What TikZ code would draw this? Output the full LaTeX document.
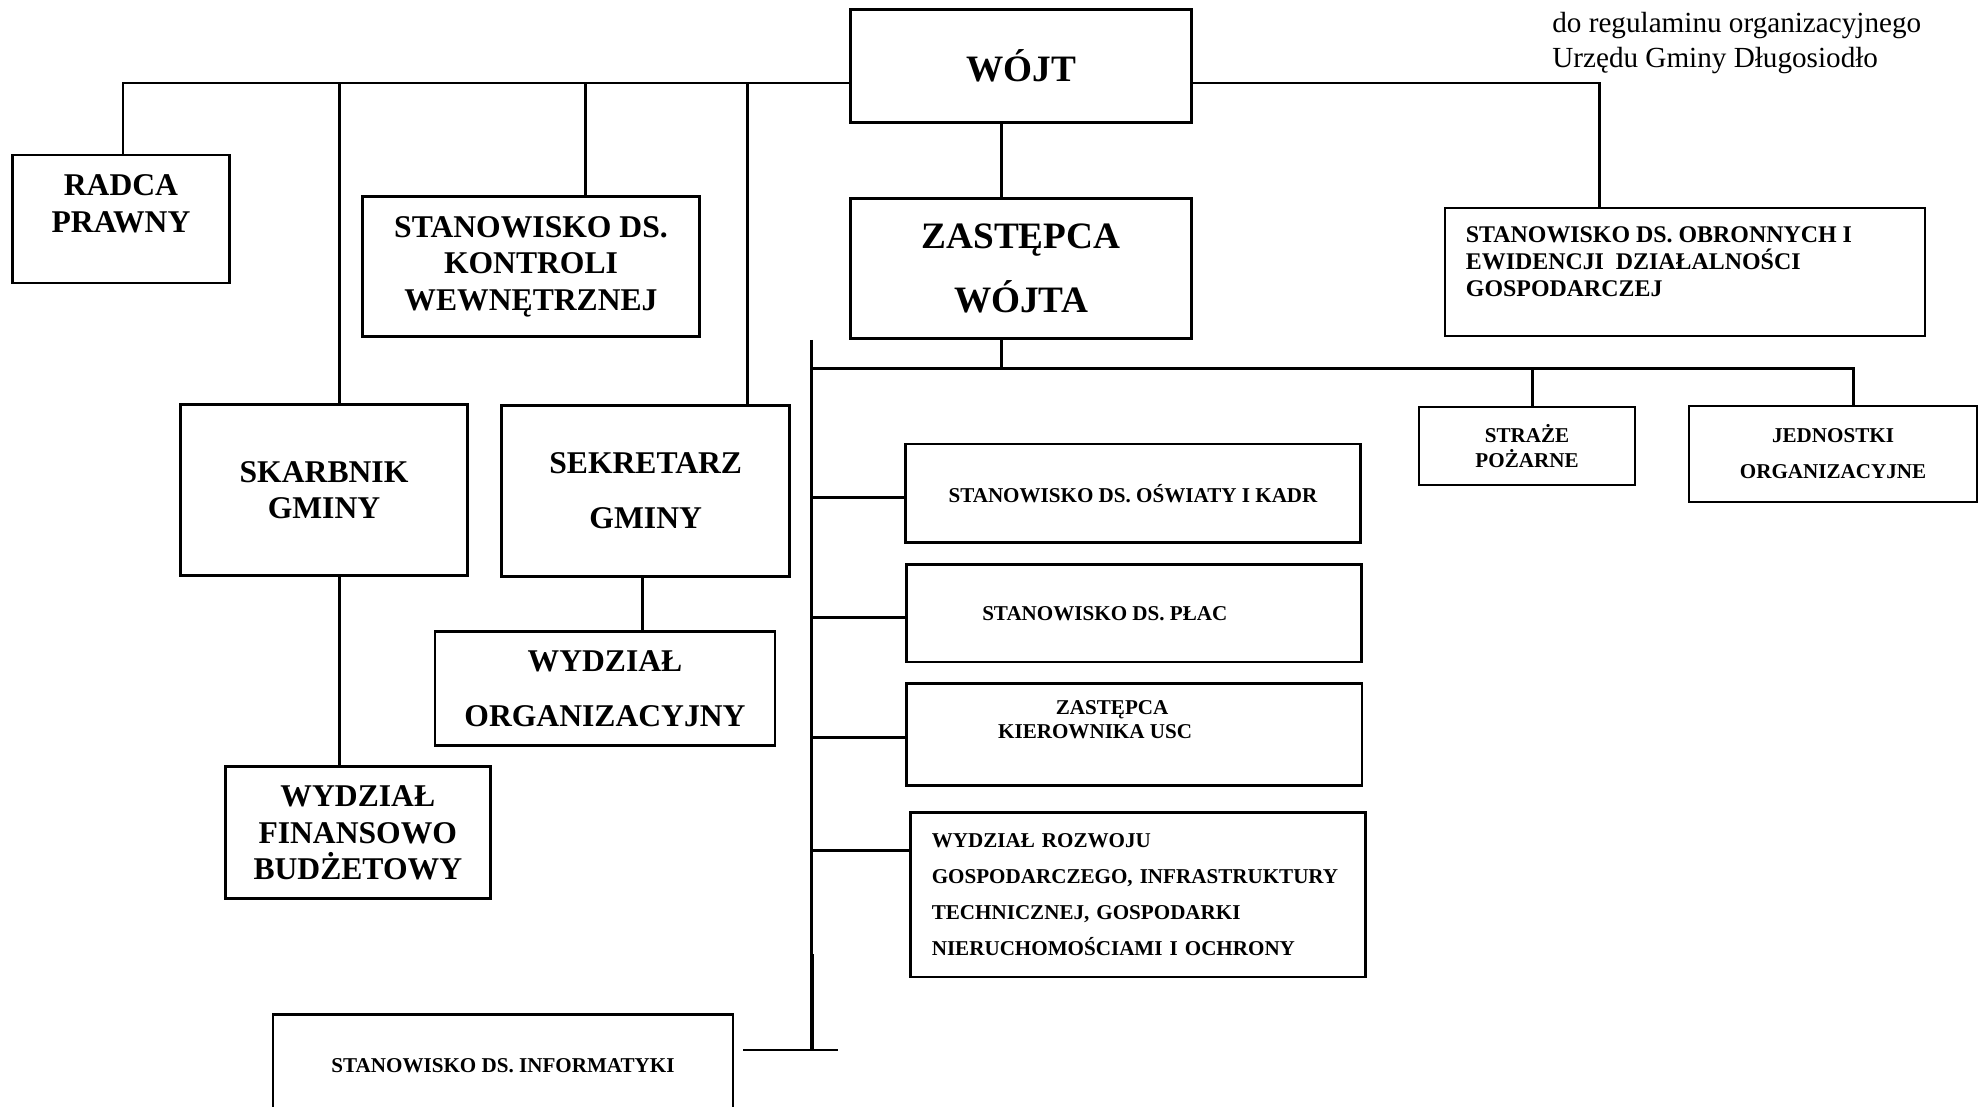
\documentclass[tikz,border=0pt]{standalone}
\usepackage{fontspec}
\setmainfont{Liberation Serif}
\begin{document}
\begin{tikzpicture}[
        line width=0.75pt,
        box/.style={rectangle, draw, line width=0.8pt, inner sep=0pt, align=center},
        bigtxt/.style={font=\fontsize{10.6}{18.4}\selectfont\bfseries},
        midtxt/.style={font=\fontsize{9}{10.4}\selectfont\bfseries},
        widetxt/.style={font=\fontsize{9}{15.6}\selectfont\bfseries},
        obrtxt/.style={font=\fontsize{6.8}{7.7}\selectfont\bfseries},
        smalltxt/.style={font=\fontsize{6}{7.0}\selectfont\bfseries},
        airtxt/.style={font=\fontsize{6}{10.3}\selectfont\bfseries}
    ]
        \useasboundingbox (0,0) rectangle (19.84,-11.06);

        % dopisek w rogu
        \node[anchor=west, inner sep=0pt, align=left, font=\fontsize{8.3}{9.9}\selectfont] at (15.51,-0.43) (note) {do regulaminu organizacyjnego\\Urzędu Gminy Długosiodło};

        % wójt i zastępca
        \node[box, bigtxt, minimum width=3.41cm, minimum height=1.13cm] at (10.21,-0.66) (wojt) {WÓJT};
        \node[box, bigtxt, minimum width=3.41cm, minimum height=1.40cm] at (10.21,-2.685) (zast) {ZASTĘPCA\\WÓJTA};

        % stanowiska przy wójcie
        \node[box, minimum width=2.17cm, minimum height=1.28cm] at (1.21,-2.19) (radca) {};
        \node[midtxt, align=center, inner sep=0pt] at ([yshift=0.15cm]radca.center) (radca-t) {RADCA\\PRAWNY};
        \node[box, midtxt, minimum width=3.37cm, minimum height=1.40cm] at (5.31,-2.665) (kontr) {STANOWISKO DS.\\KONTROLI\\WEWNĘTRZNEJ};
        \node[box, minimum width=4.80cm, minimum height=1.28cm] at (16.85,-2.72) (obron) {};
        \node[obrtxt, align=left, anchor=west, inner sep=0pt] at ([xshift=0.21cm, yshift=0.10cm]obron.west) (obron-t) {STANOWISKO DS. OBRONNYCH I\\EWIDENCJI\ \ DZIAŁALNOŚCI\\GOSPODARCZEJ};
        \node[box, midtxt, minimum width=2.87cm, minimum height=1.71cm] at (3.24,-4.90) (skarb) {SKARBNIK\\GMINY};
        \node[box, widetxt, minimum width=2.88cm, minimum height=1.71cm] at (6.457,-4.91) (sekr) {SEKRETARZ\\GMINY};

        % wydziały
        \node[box, widetxt, minimum width=3.40cm, minimum height=1.14cm] at (6.05,-6.888) (org) {WYDZIAŁ\\ORGANIZACYJNY};
        \node[box, midtxt, minimum width=2.65cm, minimum height=1.32cm] at (3.578,-8.328) (fin) {WYDZIAŁ\\FINANSOWO\\BUDŻETOWY};
        \node[box, smalltxt, minimum width=4.60cm, minimum height=1.02cm] at (5.03,-10.652) (info) {STANOWISKO DS. INFORMATYKI};

        % jednostki przy zastępcy
        \node[box, smalltxt, minimum width=2.16cm, minimum height=0.78cm] at (15.27,-4.46) (straz) {STRAŻE\\POŻARNE};
        \node[box, airtxt, minimum width=2.88cm, minimum height=0.96cm] at (18.33,-4.54) (jedn) {JEDNOSTKI\\ORGANIZACYJNE};
        \node[box, smalltxt, minimum width=4.55cm, minimum height=0.985cm] at (11.33,-4.933) (osw) {STANOWISKO DS. OŚWIATY I KADR};
        \node[box, minimum width=4.55cm, minimum height=0.975cm] at (11.338,-6.132) (plac) {};
        \node[smalltxt, inner sep=0pt] at ([xshift=-0.29cm]plac.center) (plac-t) {STANOWISKO DS. PŁAC};
        \node[box, minimum width=4.557cm, minimum height=1.015cm] at (11.341,-7.345) (usc) {};
        \node[smalltxt, align=center, inner sep=0pt] at ([xshift=-0.39cm, yshift=0.15cm]usc.center) (usc-t) {\hspace*{0.34cm}ZASTĘPCA\\KIEROWNIKA USC};
        \node[box, airtxt, align=left, text width=4.12cm, inner xsep=0.217cm, minimum height=1.645cm] at (11.378,-8.947) (rozw) {WYDZIAŁ ROZWOJU\\GOSPODARCZEGO, INFRASTRUKTURY\\TECHNICZNEJ, GOSPODARKI\\NIERUCHOMOŚCIAMI I OCHRONY};

        % linie od wójta
        \coordinate (bus) at (0,-0.83);
        \coordinate (d-radca) at (1.231,-0.83);
        \coordinate (d-skarb) at (3.393,-0.83);
        \coordinate (d-kontr) at (5.855,-0.83);
        \coordinate (d-sekr) at (7.474,-0.83);
        \coordinate (d-obron) at (15.993,-0.83);
        \draw (wojt.west |- bus) -- (d-radca) -- (d-radca |- radca.north);
        \draw (d-skarb) -- (d-skarb |- skarb.north);
        \draw (d-kontr) -- (d-kontr |- kontr.north);
        \draw (d-sekr) -- (d-sekr |- sekr.north);
        \draw (wojt.east |- bus) -- (d-obron) -- (d-obron |- obron.north);
        \draw ([xshift=-0.197cm]wojt.south) -- ([xshift=-0.197cm]zast.north);

        % linie do wydziałów
        \draw (d-skarb |- skarb.south) -- (d-skarb |- fin.north);
        \draw ([xshift=-0.035cm]sekr.south) -- ([xshift=-0.035cm]sekr.south |- org.north);

        % linie od zastępcy
        \coordinate (sp-top) at (8.118,-3.40);
        \coordinate (sp-mid) at (8.118,-9.54);
        \coordinate (sp-bot) at (8.118,-10.50);
        \coordinate (bus2) at (8.118,-3.683);
        \coordinate (d-straz) at (15.322,-3.683);
        \coordinate (d-jedn) at (18.535,-3.683);
        \draw ([xshift=-0.197cm]zast.south) -- ([xshift=-0.197cm]zast.south |- bus2);
        \draw (bus2) -- (d-jedn) -- (d-jedn |- jedn.north);
        \draw (d-straz) -- (d-straz |- straz.north);
        \draw (sp-top) -- (sp-mid);
        \draw[line width=1.3pt] (sp-mid) -- (sp-bot);
        \draw ([yshift=-0.04cm]osw.west) -- ([yshift=-0.04cm]osw.west -| sp-top);
        \draw ([yshift=-0.044cm]plac.west) -- ([yshift=-0.044cm]plac.west -| sp-top);
        \draw ([yshift=-0.027cm]usc.west) -- ([yshift=-0.027cm]usc.west -| sp-top);
        \draw ([yshift=0.44cm]rozw.west) -- ([yshift=0.44cm]rozw.west -| sp-top);
        \draw ([xshift=0.09cm]info.east |- sp-bot) -- ([xshift=0.26cm]sp-bot);
    \end{tikzpicture}
\end{document}
